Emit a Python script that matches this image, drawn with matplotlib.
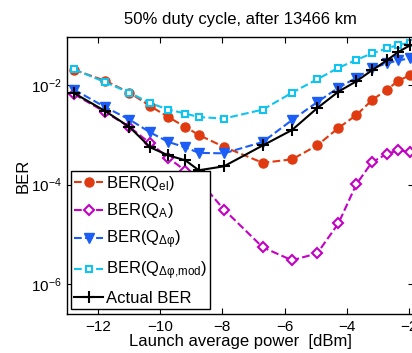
import matplotlib
matplotlib.use('Agg')
import matplotlib.pyplot as plt
import numpy as np

plt.rcParams['font.family'] = ['Liberation Sans', 'DejaVu Sans']
plt.rcParams['mathtext.fontset'] = 'custom'
plt.rcParams['mathtext.rm'] = 'Liberation Sans'
plt.rcParams['mathtext.it'] = 'Liberation Sans'
plt.rcParams['mathtext.default'] = 'regular'

# launch power points (dBm)
power = [-12.77, -11.77, -10.99, -10.32, -9.74, -9.19, -8.76, -7.95, -6.70,
         -5.76, -4.95, -4.27, -3.69, -3.19, -2.71, -2.34, -1.97]

# log10(BER)
log_el = [-1.69, -1.91, -2.15, -2.42, -2.64, -2.84, -3.00, -3.24, -3.56,
          -3.49, -3.21, -2.86, -2.60, -2.30, -2.09, -1.91, -1.80]
log_A = [-2.18, -2.54, -2.84, -3.17, -3.46, -3.72, -3.91, -4.50, -5.26,
         -5.52, -5.38, -4.78, -3.99, -3.55, -3.38, -3.31, -3.34]
log_dphi = [-2.09, -2.44, -2.69, -2.95, -3.14, -3.25, -3.36, -3.37, -3.14,
            -2.70, -2.34, -2.05, -1.85, -1.66, -1.56, -1.50, -1.46]
log_dphi_mod = [-1.68, -1.94, -2.15, -2.36, -2.49, -2.57, -2.64, -2.67, -2.49,
                -2.15, -1.88, -1.65, -1.49, -1.36, -1.26, -1.19, -1.15]
log_actual = [-2.16, -2.52, -2.84, -3.25, -3.41, -3.51, -3.71, -3.63, -3.21,
              -2.90, -2.46, -2.13, -1.92, -1.70, -1.50, -1.33, -1.20]

fig = plt.figure(figsize=(4.12, 3.53), dpi=100)
ax = fig.add_axes([0.1626, 0.1105, 0.842, 0.7847])

red = '#E03A10'
mag = '#C400C4'
blue = '#1C5EF5'
cyan = '#10C4F0'

ax.semilogy(power, 10 ** np.array(log_el), '--o', color=red, lw=1.5,
            ms=6.5, mfc=red, mec=red, label=r'BER(Q$_{el}$)')
ax.semilogy(power, 10 ** np.array(log_A), '--D', color=mag, lw=1.5,
            ms=5.5, mfc='white', mec=mag, mew=1.5, label=r'BER(Q$_{A}$)')
ax.semilogy(power, 10 ** np.array(log_dphi), '--v', color=blue, lw=1.5,
            ms=7.5, mfc=blue, mec=blue, label=r'BER(Q$_{Δφ}$)')
ax.semilogy(power, 10 ** np.array(log_dphi_mod), '--s', color=cyan, lw=1.5,
            ms=5, mfc='white', mec=cyan, mew=1.5, label=r'BER(Q$_{Δφ{,}mod}$)')
ax.semilogy(power, 10 ** np.array(log_actual), '-+', color='black', lw=1.5,
            ms=8, mew=1.5, label='Actual BER')

ax.set_xlim(-13, -1.84)
ax.set_ylim(10 ** -6.6, 10 ** -1.03)
ax.set_xticks([-12, -10, -8, -6, -4, -2])
ax.set_xticklabels(['\u221212', '\u221210', '\u22128', '\u22126', '\u22124', '\u22122'])
ax.set_yticks([1e-6, 1e-4, 1e-2])
ax.yaxis.set_minor_locator(matplotlib.ticker.NullLocator())
ax.tick_params(direction='in', length=4, width=0.8, top=True, right=True,
               labelsize=11, pad=4)
for s in ax.spines.values():
    s.set_linewidth(1.0)

ax.set_title('50% duty cycle, after 13466 km', fontsize=12, pad=9)
ax.set_xlabel('Launch average power  [dBm]', fontsize=12, labelpad=0)
ax.set_ylabel('BER', fontsize=12, labelpad=0)

leg = ax.legend(loc='lower left', bbox_to_anchor=(0.012, 0.018),
                borderaxespad=0, fontsize=12, handlelength=1.7,
                handletextpad=0.2, labelspacing=0.5, borderpad=0.2,
                fancybox=False, framealpha=1, edgecolor='black')
leg.get_frame().set_linewidth(1.0)

fig.savefig('out.png', dpi=100)
